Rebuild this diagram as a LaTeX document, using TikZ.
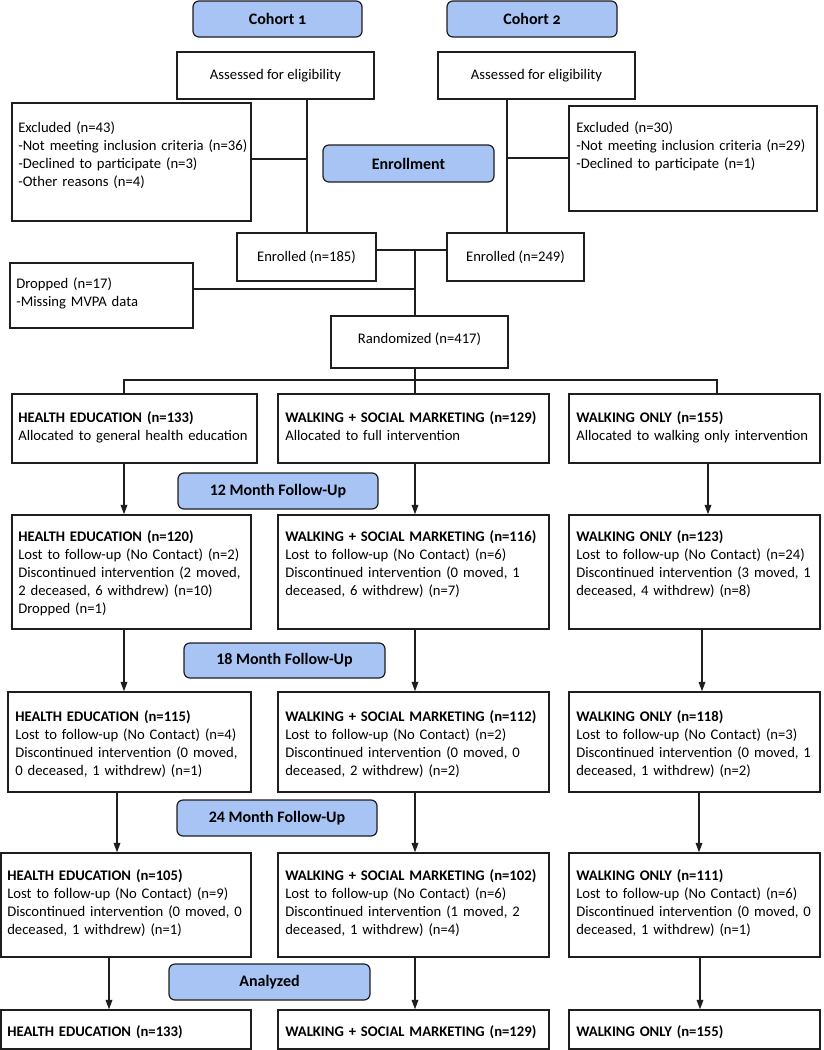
\documentclass[tikz,border=0pt]{standalone}
\usepackage{fontspec}
\setmainfont{Carlito}
\newfontfamily\oldnum[Numbers=OldStyle]{Carlito}
\usetikzlibrary{fit,arrows.meta}
\definecolor{lblue}{RGB}{168,196,245}
\definecolor{edge}{RGB}{30,30,30}
\begin{document}
\begin{tikzpicture}[x=0.75pt,y=-0.75pt,
  box/.style={draw=edge,line width=1.1pt,inner sep=0pt},
  stage/.style={draw=edge,line width=0.9pt,fill=lblue,rounded corners=4.5pt,inner sep=0pt},
  stagetxt/.style={inner sep=0pt,font=\fontsize{12}{14}\selectfont\bfseries},
  ctxt/.style={inner sep=0pt,font=\fontsize{11}{13.5}\selectfont},
  txt/.style={inner sep=0pt,anchor=base west,text width=250pt,align=left,font=\fontsize{11}{13.5}\selectfont},
  conn/.style={line width=1pt,draw=edge},
  arr/.style={line width=0.9pt,draw=edge,-{Triangle[length=7pt,width=5pt]}}]
\useasboundingbox (0,0) rectangle (824,1050);
\fill[white] (0,0) rectangle (824,1050);

% ---- top section
\node[stage,fit={(193,1) (362,37)}] (coh1) {};
\node[stagetxt] (coh1t) at (coh1.center) {Cohort {\oldnum 1}};
\node[stage,fit={(447,1) (617,37)}] (coh2) {};
\node[stagetxt] (coh2t) at (coh2.center) {Cohort {\oldnum 2}};
\node[box,fit={(177,52) (374,99)}] (ass1) {};
\node[ctxt] (ass1t) at (ass1.center) {Assessed for eligibility};
\node[box,fit={(438,52) (635,99)}] (ass2) {};
\node[ctxt] (ass2t) at (ass2.center) {Assessed for eligibility};
\node[box,fit={(12,103) (251,221)}] (exc1) {};
\node[txt] (exc1t) at (18,132.5) {Excluded (n=43)\\-Not meeting inclusion criteria (n=36)\\-Declined to participate (n=3)\\-Other reasons (n=4)};
\node[box,fit={(569,106) (817,211)}] (exc2) {};
\node[txt] (exc2t) at (576,132.5) {Excluded (n=30)\\-Not meeting inclusion criteria (n=29)\\-Declined to participate (n=1)};
\node[stage,fit={(323,145) (494,182)}] (enroll) {};
\node[stagetxt] (enrollt) at (enroll.center) {Enrollment};
\node[box,fit={(237,233) (376,281)}] (enr1) {};
\node[ctxt] (enr1t) at (enr1.center) {Enrolled (n=185)};
\node[box,fit={(447,233) (584,281)}] (enr2) {};
\node[ctxt] (enr2t) at (enr2.center) {Enrolled (n=249)};
\node[box,fit={(10,263) (193,328)}] (drop) {};
\node[txt] (dropt) at (16,288.5) {Dropped (n=17)\\-Missing MVPA data};
\node[box,fit={(331,316) (508,368)}] (rand) {};
\node[ctxt] (randt) at ([yshift=2pt]rand.center) {Randomized (n=417)};

\coordinate (j1) at (307,159);
\coordinate (j2) at (507,158);
\coordinate (j3) at (415,250);
\coordinate (j4) at (415,289);
\coordinate (b0) at (415,380);
\coordinate (bl) at (124,380);
\coordinate (br) at (717,380);

\draw[conn] (ass1.south -| j1) -- (enr1.north -| j1);
\draw[conn] (j1 -| exc1.east) -- (j1);
\draw[conn] (ass2.south -| j2) -- (enr2.north -| j2);
\draw[conn] (j2) -- (j2 -| exc2.west);
\draw[conn] (j3 -| enr1.east) -- (j3 -| enr2.west);
\draw[conn] (j3) -- (rand.north -| j3);
\draw[conn] (j4 -| drop.east) -- (j4);

% ---- row 1
\node[box,fit={(12,394) (257,463)}] (he1) {};
\node[txt] (he1t) at (18,422.5) {\textbf{HEALTH EDUCATION (n=133)}\\Allocated to general health education};
\node[box,fit={(278,394) (549,463)}] (ws1) {};
\node[txt] (ws1t) at (285,422.5) {\textbf{WALKING + SOCIAL MARKETING (n=129)}\\Allocated to full intervention};
\node[box,fit={(569,394) (820,463)}] (wo1) {};
\node[txt] (wo1t) at (576,422.5) {\textbf{WALKING ONLY (n=155)}\\Allocated to walking only intervention};

\draw[conn] (rand.south -| b0) -- (ws1.north -| b0);
\draw[conn] (he1.north -| bl) -- (bl) -- (br) -- (wo1.north -| br);

% ---- row 2
\node[stage,fit={(178,473) (378,509)}] (m12) {};
\node[stagetxt] (m12t) at (m12.center) {12 Month Follow-Up};
\node[box,fit={(12,515) (251,629)}] (he2) {};
\node[txt] (he2t) at (18,541.5) {\textbf{HEALTH EDUCATION (n=120)}\\Lost to follow-up (No Contact) (n=2)\\Discontinued intervention (2 moved,\\2 deceased, 6 withdrew) (n=10)\\Dropped (n=1)};
\node[box,fit={(278,515) (549,629)}] (ws2) {};
\node[txt] (ws2t) at (285,541.5) {\textbf{WALKING + SOCIAL MARKETING (n=116)}\\Lost to follow-up (No Contact) (n=6)\\Discontinued intervention (0 moved, 1\\deceased, 6 withdrew) (n=7)};
\node[box,fit={(569,515) (820,629)}] (wo2) {};
\node[txt] (wo2t) at (576,541.5) {\textbf{WALKING ONLY (n=123)}\\Lost to follow-up (No Contact) (n=24)\\Discontinued intervention (3 moved, 1\\deceased, 4 withdrew) (n=8)};

% ---- row 3
\node[stage,fit={(184,643) (385,678)}] (m18) {};
\node[stagetxt] (m18t) at (m18.center) {18 Month Follow-Up};
\node[box,fit={(8,692) (251,792)}] (he3) {};
\node[txt] (he3t) at (15,721.5) {\textbf{HEALTH EDUCATION (n=115)}\\Lost to follow-up (No Contact) (n=4)\\Discontinued intervention (0 moved,\\0 deceased, 1 withdrew) (n=1)};
\node[box,fit={(278,692) (549,792)}] (ws3) {};
\node[txt] (ws3t) at (285,721.5) {\textbf{WALKING + SOCIAL MARKETING (n=112)}\\Lost to follow-up (No Contact) (n=2)\\Discontinued intervention (0 moved, 0\\deceased, 2 withdrew) (n=2)};
\node[box,fit={(569,692) (820,792)}] (wo3) {};
\node[txt] (wo3t) at (576,721.5) {\textbf{WALKING ONLY (n=118)}\\Lost to follow-up (No Contact) (n=3)\\Discontinued intervention (0 moved, 1\\deceased, 1 withdrew) (n=2)};

% ---- row 4
\node[stage,fit={(177,800) (377,836)}] (m24) {};
\node[stagetxt] (m24t) at (m24.center) {24 Month Follow-Up};
\node[box,fit={(1,853) (251,957)}] (he4) {};
\node[txt] (he4t) at (7,880.5) {\textbf{HEALTH EDUCATION (n=105)}\\Lost to follow-up (No Contact) (n=9)\\Discontinued intervention (0 moved, 0\\deceased, 1 withdrew) (n=1)};
\node[box,fit={(278,853) (549,957)}] (ws4) {};
\node[txt] (ws4t) at (285,880.5) {\textbf{WALKING + SOCIAL MARKETING (n=102)}\\Lost to follow-up (No Contact) (n=6)\\Discontinued intervention (1 moved, 2\\deceased, 1 withdrew) (n=4)};
\node[box,fit={(569,853) (820,957)}] (wo4) {};
\node[txt] (wo4t) at (576,880.5) {\textbf{WALKING ONLY (n=111)}\\Lost to follow-up (No Contact) (n=6)\\Discontinued intervention (0 moved, 0\\deceased, 1 withdrew) (n=1)};

% ---- row 5
\node[stage,fit={(169,964) (370,1000)}] (ana) {};
\node[stagetxt] (anat) at (ana.center) {Analyzed};
\node[box,fit={(1,1010) (251,1049)}] (he5) {};
\node[txt] (he5t) at (7,1036.5) {\textbf{HEALTH EDUCATION (n=133)}};
\node[box,fit={(278,1010) (549,1049)}] (ws5) {};
\node[txt] (ws5t) at (285,1036.5) {\textbf{WALKING + SOCIAL MARKETING (n=129)}};
\node[box,fit={(569,1010) (820,1049)}] (wo5) {};
\node[txt] (wo5t) at (576,1036.5) {\textbf{WALKING ONLY (n=155)}};

% ---- arrows
\coordinate (p1) at (124,0);
\coordinate (p2) at (117,0);
\coordinate (p3) at (109,0);
\coordinate (q) at (415,0);
\coordinate (r1) at (708,0);
\coordinate (r2) at (702,0);
\coordinate (r3) at (699,0);
\coordinate (r4) at (700,0);

\draw[arr] (he1.south -| p1) -- (he2.north -| p1);
\draw[arr] (ws1.south -| q) -- (ws2.north -| q);
\draw[arr] (wo1.south -| r1) -- (wo2.north -| r1);
\draw[arr] (he2.south -| p1) -- (he3.north -| p1);
\draw[arr] (ws2.south -| q) -- (ws3.north -| q);
\draw[arr] (wo2.south -| r2) -- (wo3.north -| r2);
\draw[arr] (he3.south -| p2) -- (he4.north -| p2);
\draw[arr] (ws3.south -| q) -- (ws4.north -| q);
\draw[arr] (wo3.south -| r3) -- (wo4.north -| r3);
\draw[arr] (he4.south -| p3) -- (he5.north -| p3);
\draw[arr] (ws4.south -| q) -- (ws5.north -| q);
\draw[arr] (wo4.south -| r4) -- (wo5.north -| r4);
\end{tikzpicture}
\end{document}
